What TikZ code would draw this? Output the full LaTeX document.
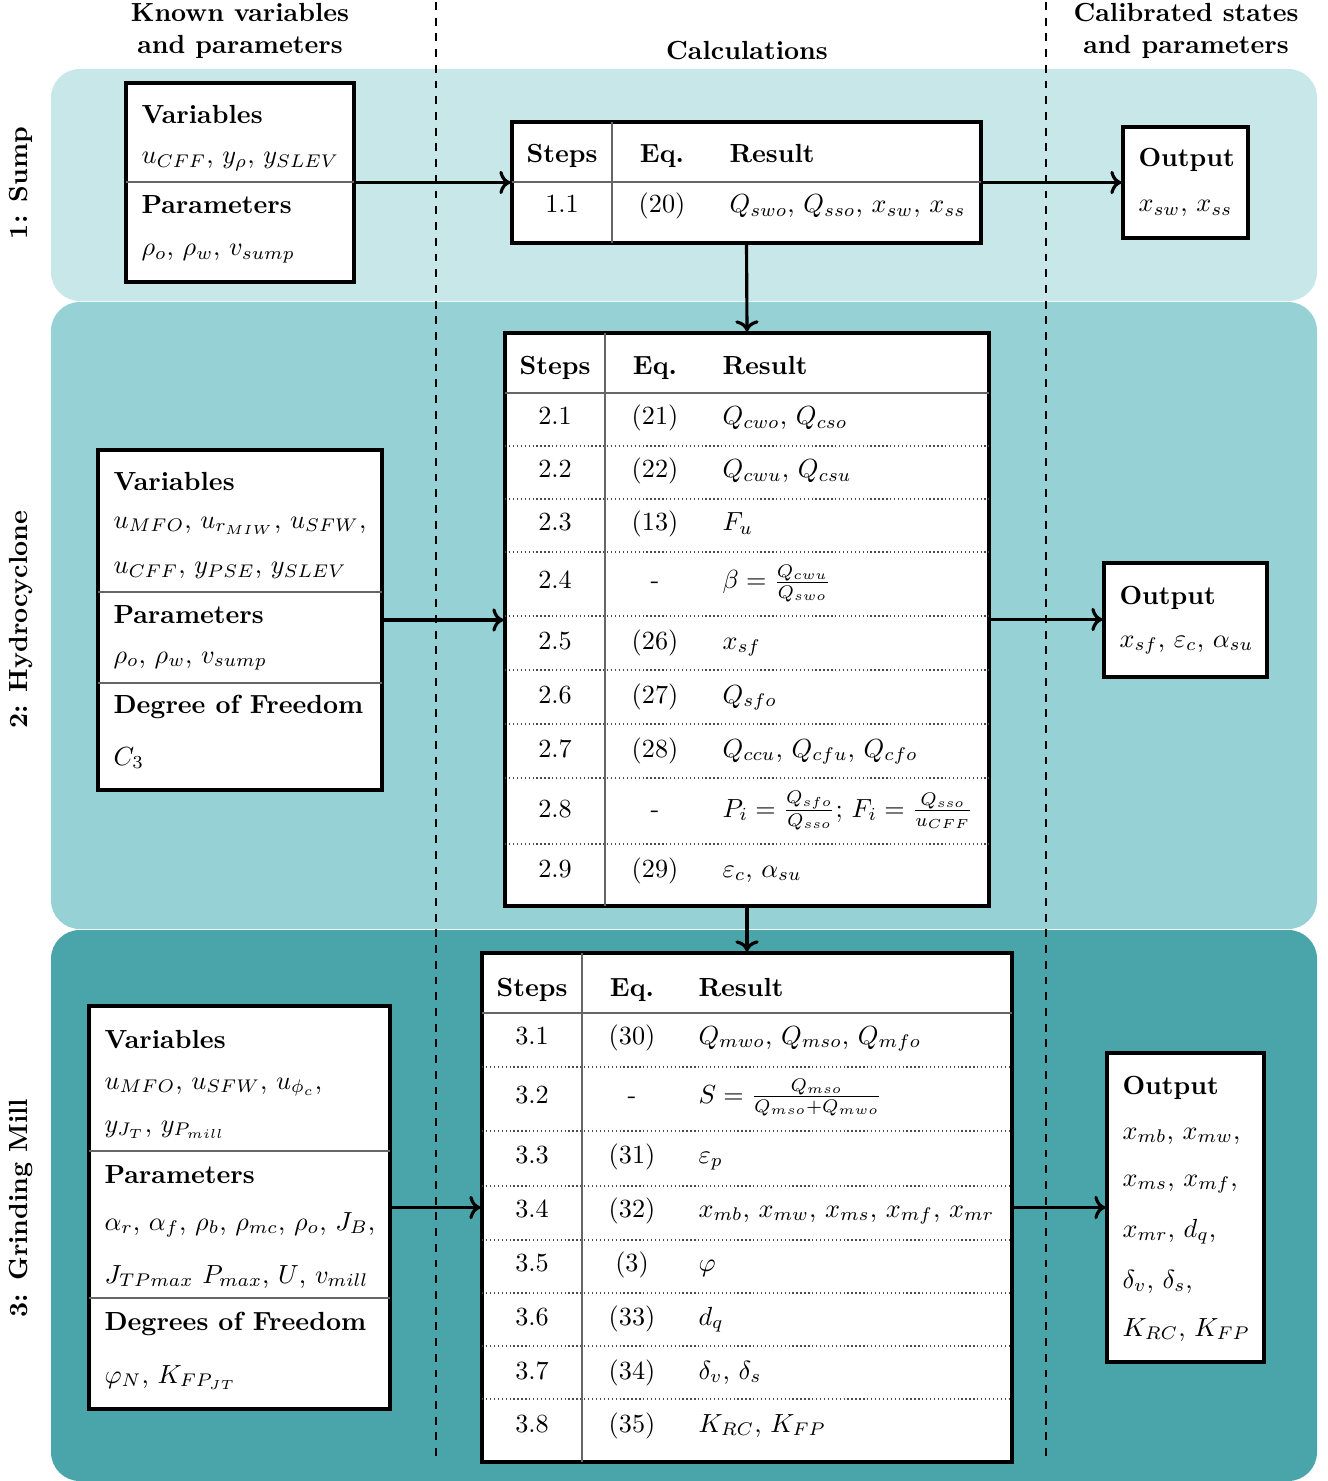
\documentclass[tikz,border=0pt]{standalone}
\usetikzlibrary{fit,arrows.meta}
\definecolor{bandA}{RGB}{200,231,233}
\definecolor{bandB}{RGB}{149,209,213}
\definecolor{bandC}{RGB}{73,165,170}
\begin{document}
\begin{tikzpicture}[x=0.3817pt,y=-0.3817pt,
  box/.style={draw=black, line width=1.2pt, fill=white, inner sep=0pt},
  hd/.style={anchor=base west, inner sep=0pt, font=\bfseries},
  mt/.style={anchor=base west, inner sep=0pt},
  cc/.style={anchor=base, inner sep=0pt},
  cb/.style={anchor=base, inner sep=0pt, font=\bfseries},
  sep/.style={draw=black!60, line width=0.5pt},
  dsep/.style={draw=black!70, line width=0.5pt, densely dotted},
  arr/.style={->, line width=1.2pt},
  colsep/.style={dashed, line width=0.7pt},
  band/.style={rounded corners=11pt},
  side/.style={rotate=90, font=\bfseries, inner sep=0pt},
  top/.style={font=\bfseries, align=center, inner sep=0pt}
]
\useasboundingbox (0,0) rectangle (1327,1481);
% bands
\fill[bandA, band] (51,69) rectangle (1317,301);
\fill[bandB, band] (51,302) rectangle (1317,929);
\fill[bandC, band] (51,930) rectangle (1317,1481);
% column separators
\draw[colsep] (436,2) -- (436,1462);
\draw[colsep] (1046,2) -- (1046,1462);
% headings
\node[top] (hk) at (240,31) {Known variables\\and parameters};
\node[top] (hc) at (747,51) {Calculations};
\node[top] (hr) at (1186,31) {Calibrated states\\and parameters};
\node[side] (l1) at (21,183) {1: Sump};
\node[side] (l2) at (21,620) {2: Hydrocyclone};
\node[side] (l3) at (21,1208) {3: Grinding Mill};

% ===== Sump =====
\node[box, fit={(126,83) (354,282)}] (sin) {};
\draw[sep] (126,182) -- (354,182);
\node[hd] (sinv) at (141,124) {Variables};
\node[mt] (sinvm) at (141,164) {$u_{CFF}$, $y_{\rho}$, $y_{SLEV}$};
\node[hd] (sinp) at (141,214) {Parameters};
\node[mt] (sinpm) at (141,256) {$\rho_o$, $\rho_w$, $v_{sump}$};

\node[box, fit={(512,122) (981,243)}] (stab) {};
\draw[sep] (512,182) -- (981,182);
\draw[sep] (612,122) -- (612,243);
\node[cb] (sh1) at (562,163) {Steps};
\node[cb] (sh2) at (662,163) {Eq.};
\node[hd] (sh3) at (729,163) {Result};
\node[cc] (s1a) at (562,213) {1.1};
\node[cc] (s1b) at (662,213) {(20)};
\node[mt] (s1c) at (729,213) {$Q_{swo}$, $Q_{sso}$, $x_{sw}$, $x_{ss}$};

\node[box, fit={(1123,127) (1248,238)}] (sout) {};
\node[hd] (south) at (1138,167) {Output};
\node[mt] (soutm) at (1138,212) {$x_{sw}$, $x_{ss}$};

% ===== Hydrocyclone =====
\node[box, fit={(98,450) (382,790)}] (hin) {};
\draw[sep] (98,592) -- (382,592);
\draw[sep] (98,683) -- (382,683);
\node[hd] (hinv) at (113,491) {Variables};
\node[mt] (hinv1) at (113,528) {$u_{MFO}$, $u_{r_{MIW}}$, $u_{SFW}$,};
\node[mt] (hinv2) at (113,574) {$u_{CFF}$, $y_{PSE}$, $y_{SLEV}$};
\node[hd] (hinp) at (113,623) {Parameters};
\node[mt] (hinpm) at (113,663) {$\rho_o$, $\rho_w$, $v_{sump}$};
\node[hd] (hind) at (113,713) {Degree of Freedom};
\node[mt] (hindm) at (113,765) {$C_3$};

\node[box, fit={(505,333) (989,906)}] (htab) {};
\draw[sep] (505,393) -- (989,393);
\foreach \yy in {446,499,552,616,670,724,778,844}
  \draw[dsep] (505,\yy) -- (989,\yy);
\draw[sep] (605,333) -- (605,906);
\node[cb] (hh1) at (555,375) {Steps};
\node[cb] (hh2) at (655,375) {Eq.};
\node[hd] (hh3) at (722,375) {Result};
\foreach \nm/\yy/\st/\eq/\res in {
  h1/425/2.1/(21)/{$Q_{cwo}$, $Q_{cso}$},
  h2/478/2.2/(22)/{$Q_{cwu}$, $Q_{csu}$},
  h3/531/2.3/(13)/{$F_u$},
  h4/589/2.4/-/{$\beta = \frac{Q_{cwu}}{Q_{swo}}$},
  h5/649/2.5/(26)/{$x_{sf}$},
  h6/703/2.6/(27)/{$Q_{sfo}$},
  h7/757/2.7/(28)/{$Q_{ccu}$, $Q_{cfu}$, $Q_{cfo}$},
  h8/817/2.8/-/{$P_i = \frac{Q_{sfo}}{Q_{sso}}$; $F_i = \frac{Q_{sso}}{u_{CFF}}$},
  h9/877/2.9/(29)/{$\varepsilon_c$, $\alpha_{su}$}}
{
  \node[cc] (\nm a) at (555,\yy) {\st};
  \node[cc] (\nm b) at (655,\yy) {\eq};
  \node[mt] (\nm c) at (722,\yy) {\res};
}

\node[box, fit={(1104,563) (1267,677)}] (hout) {};
\node[hd] (houth) at (1119,604) {Output};
\node[mt] (houtm) at (1119,647) {$x_{sf}$, $\varepsilon_c$, $\alpha_{su}$};

% ===== Grinding mill =====
\node[box, fit={(89,1006) (390,1409)}] (min) {};
\draw[sep] (89,1151) -- (390,1151);
\draw[sep] (89,1298) -- (390,1298);
\node[hd] (minv) at (104,1048) {Variables};
\node[mt] (minv1) at (104,1089) {$u_{MFO}$, $u_{SFW}$, $u_{\phi_c}$,};
\node[mt] (minv2) at (104,1132) {$y_{J_T}$, $y_{P_{mill}}$};
\node[hd] (minp) at (104,1183) {Parameters};
\node[mt] (minp1) at (104,1230) {$\alpha_r$, $\alpha_f$, $\rho_b$, $\rho_{mc}$, $\rho_o$, $J_B$,};
\node[mt] (minp2) at (104,1283) {$J_{TPmax}$ $P_{max}$, $U$, $v_{mill}$};
\node[hd] (mind) at (104,1330) {Degrees of Freedom};
\node[mt] (mindm) at (104,1383) {$\varphi_N$, $K_{FP_{JT}}$};

\node[box, fit={(482,953) (1012,1462)}] (mtab) {};
\draw[sep] (482,1013) -- (1012,1013);
\foreach \yy in {1067,1131,1186,1240,1293,1346,1399}
  \draw[dsep] (482,\yy) -- (1012,\yy);
\draw[sep] (582,953) -- (582,1462);
\node[cb] (mh1) at (532,996) {Steps};
\node[cb] (mh2) at (632,996) {Eq.};
\node[hd] (mh3) at (698,996) {Result};
\foreach \nm/\yy/\st/\eq/\res in {
  m1/1044/3.1/(30)/{$Q_{mwo}$, $Q_{mso}$, $Q_{mfo}$},
  m2/1103/3.2/-/{$S = \frac{Q_{mso}}{Q_{mso}+Q_{mwo}}$},
  m3/1163/3.3/(31)/{$\varepsilon_p$},
  m4/1217/3.4/(32)/{$x_{mb}$, $x_{mw}$, $x_{ms}$, $x_{mf}$, $x_{mr}$},
  m5/1271/3.5/(3)/{$\varphi$},
  m6/1325/3.6/(33)/{$d_q$},
  m7/1379/3.7/(34)/{$\delta_v$, $\delta_s$},
  m8/1432/3.8/(35)/{$K_{RC}$, $K_{FP}$}}
{
  \node[cc] (\nm a) at (532,\yy) {\st};
  \node[cc] (\nm b) at (632,\yy) {\eq};
  \node[mt] (\nm c) at (698,\yy) {\res};
}

\node[box, fit={(1107,1053) (1264,1362)}] (mout) {};
\node[hd] (mouth) at (1122,1094) {Output};
\node[mt] (mout1) at (1122,1139) {$x_{mb}$, $x_{mw}$,};
\node[mt] (mout2) at (1122,1186) {$x_{ms}$, $x_{mf}$,};
\node[mt] (mout3) at (1122,1237) {$x_{mr}$, $d_q$,};
\node[mt] (mout4) at (1122,1288) {$\delta_v$, $\delta_s$,};
\node[mt] (mout5) at (1122,1336) {$K_{RC}$, $K_{FP}$};

% ===== connectors =====
\draw[arr] (sin.east) -- (stab.west);
\draw[arr] (stab.east) -- (sout.west);
\draw[arr] (stab.south) -- (htab.north);
\draw[arr] (hin.east) -- (hin.east -| htab.west);
\draw[arr] (htab.east) -- (htab.east -| hout.west);
\draw[arr] (htab.south) -- (mtab.north);
\draw[arr] (min.east) -- (mtab.west);
\draw[arr] (mtab.east) -- (mout.west);
\end{tikzpicture}
\end{document}
